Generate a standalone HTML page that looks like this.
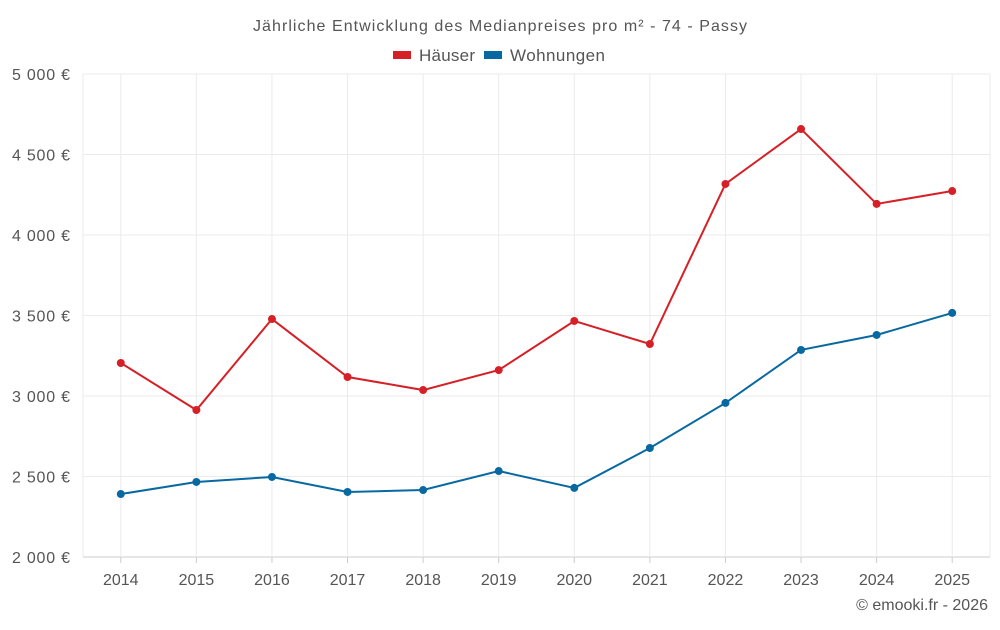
<!DOCTYPE html>
<html><head><meta charset="utf-8"><style>
body{margin:0;background:#fff;font-family:"Liberation Sans",sans-serif;}
svg text{font-family:"Liberation Sans",sans-serif;fill:#555;}
</style></head><body>
<svg width="1000" height="625" viewBox="0 0 1000 625">
<text x="500" y="31" text-anchor="middle" font-size="16" textLength="494">Jährliche Entwicklung des Medianpreises pro m² - 74 - Passy</text>
<g>
<g><rect x="393" y="51" width="18" height="8" fill="#d62027"/><text x="419" y="61" font-size="17" textLength="56">Häuser</text></g>
<g><rect x="484" y="51" width="18" height="8" fill="#0868a2"/><text x="510" y="61" font-size="17" textLength="95">Wohnungen</text></g>
</g>
<g id="grid"></g>
<g id="axes"></g>
<g id="series"></g>
<text x="988" y="610" text-anchor="end" font-size="16">© emooki.fr - 2026</text>
</svg>
<script>
const years=["2014","2015","2016","2017","2018","2019","2020","2021","2022","2023","2024","2025"];
const haeuser=[3205,2913,3478,3118,3037,3161,3466,3323,4317,4658,4193,4273];
const wohnungen=[2391,2466,2497,2404,2416,2534,2429,2677,2957,3286,3379,3516];
const yTicks=[2000,2500,3000,3500,4000,4500,5000];
const yTickLabels=["2 000 €","2 500 €","3 000 €","3 500 €","4 000 €","4 500 €","5 000 €"];
const L=83,R=990,T=74,B=557,NS="http://www.w3.org/2000/svg";
const step=(R-L)/years.length;
const x=i=>L+step*(i+0.5);
const y=v=>B-(v-2000)/3000*(B-T);
function mk(t,a,p){const e=document.createElementNS(NS,t);for(const k in a)e.setAttribute(k,a[k]);p.appendChild(e);return e;}
const grid=document.getElementById('grid'),axes=document.getElementById('axes'),ser=document.getElementById('series');
yTicks.forEach((v,i)=>{
 const l=mk('line',{x1:L,x2:R,y1:y(v),y2:y(v),stroke:i==0?'#ccc':'#ebebeb'},grid);
 
 
 const t=mk('text',{x:70,y:y(v)+6,'text-anchor':'end','font-size':16,textLength:58},axes);
 t.textContent=yTickLabels[i];
 
 
});
mk('line',{x1:L,x2:L,y1:T,y2:B,stroke:'#ebebeb'},grid);
mk('line',{x1:R,x2:R,y1:T,y2:B,stroke:'#ebebeb'},grid);
years.forEach((yr,i)=>{
 const l=mk('line',{x1:x(i),x2:x(i),y1:T,y2:B,stroke:'#ebebeb'},grid);
 
 
 mk('line',{x1:x(i),x2:x(i),y1:B,y2:B+6,stroke:'#ccc'},axes);
 const t=mk('text',{x:x(i),y:585,'text-anchor':'middle','font-size':16},axes);
 t.textContent=yr;
 
 
});
function draw(vals,color,name){
 const p=mk('polyline',{points:vals.map((v,i)=>x(i)+','+y(v)).join(' '),fill:'none',stroke:color,'stroke-width':2},ser);
 
 
 vals.forEach((v,i)=>{
  const c=mk('circle',{cx:x(i),cy:y(v),r:4,fill:color},ser);
  
  
 });
}
draw(haeuser,'#d62027','haeuser');
draw(wohnungen,'#0868a2','wohnungen');
</script>
</body></html>
